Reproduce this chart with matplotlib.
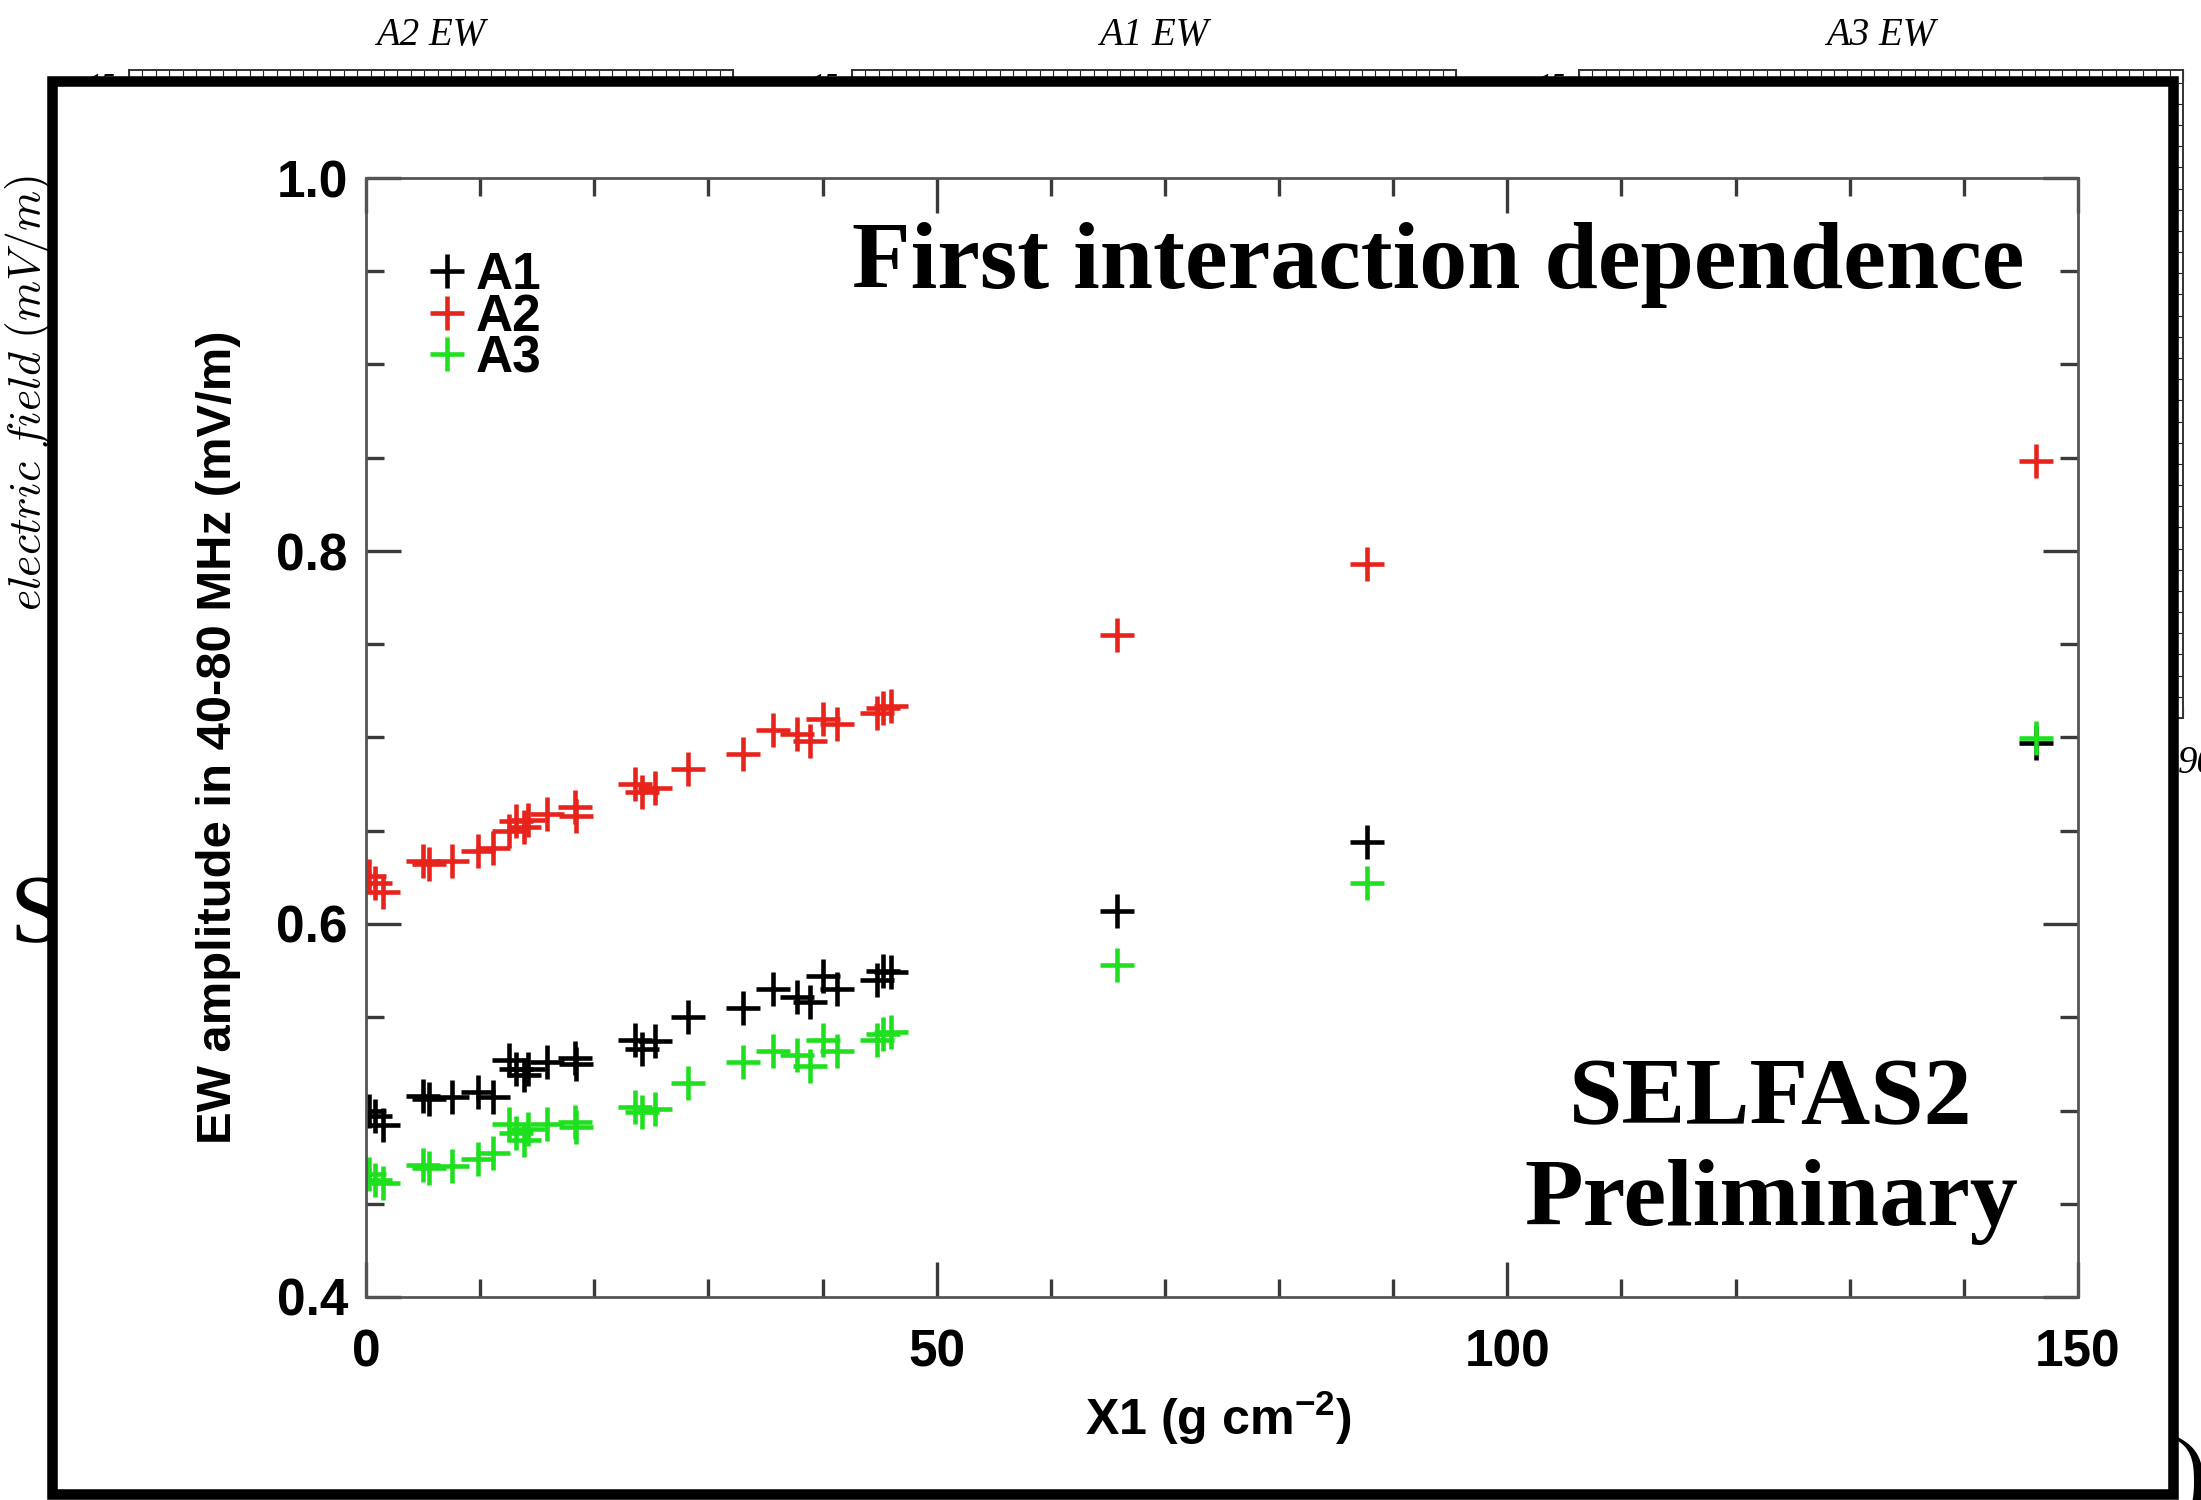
import matplotlib
matplotlib.use("Agg")
import matplotlib.pyplot as plt
from matplotlib import font_manager
from matplotlib.patches import Rectangle
from matplotlib.ticker import MultipleLocator

# ── data ──────────────────────────────────────────────────────────────────────
# depth of first interaction X1 (g cm^-2), one value per simulated shower
x1 = [0.3, 0.8, 1.5, 5.0, 5.5, 7.5, 9.8, 11.1, 12.5, 13.1, 13.8, 14.2, 15.9,
      18.3, 18.4, 23.6, 24.2, 25.3, 28.2, 33.0, 35.7, 37.8, 38.9, 40.0, 41.3,
      44.8, 45.3, 46.0, 65.8, 87.7, 146.3]

# EW amplitude in the 40-80 MHz band (mV/m) for each antenna
amp_a1 = [0.500, 0.497, 0.492, 0.508, 0.506, 0.507, 0.510, 0.507, 0.527, 0.522,
          0.519, 0.522, 0.526, 0.528, 0.525, 0.538, 0.533, 0.537, 0.550, 0.555,
          0.565, 0.561, 0.558, 0.572, 0.565, 0.570, 0.575, 0.574, 0.607, 0.644,
          0.697]
amp_a2 = [0.626, 0.622, 0.617, 0.634, 0.632, 0.634, 0.639, 0.641, 0.650, 0.655,
          0.652, 0.656, 0.659, 0.663, 0.658, 0.675, 0.671, 0.673, 0.683, 0.691,
          0.704, 0.702, 0.698, 0.710, 0.707, 0.713, 0.716, 0.717, 0.755, 0.793,
          0.848]
amp_a3 = [0.466, 0.463, 0.461, 0.471, 0.469, 0.470, 0.474, 0.477, 0.493, 0.488,
          0.484, 0.490, 0.493, 0.494, 0.491, 0.502, 0.499, 0.501, 0.515, 0.526,
          0.532, 0.530, 0.524, 0.538, 0.532, 0.538, 0.541, 0.542, 0.578, 0.622,
          0.700]

antennas = ["A1", "A2", "A3"]
colors = ["black", "#e8231b", "#1fe01f"]
panel_titles = ["A2 EW", "A1 EW", "A3 EW"]

# ── fonts ─────────────────────────────────────────────────────────────────────
installed = {f.name for f in font_manager.fontManager.ttflist}
if "Liberation Sans Narrow" in installed:
    SANS, fs = "Liberation Sans Narrow", 1.0
else:
    SANS, fs = "Liberation Sans", 0.84
SERIF = "Liberation Serif"

plt.rcParams["mathtext.fontset"] = "custom"
plt.rcParams["mathtext.rm"] = f"{SANS}:bold"
plt.rcParams["mathtext.it"] = f"{SANS}:bold"
plt.rcParams["mathtext.bf"] = f"{SANS}:bold"

W, H = 2201, 1500
fig = plt.figure(figsize=(W / 100, H / 100), dpi=100)


def box(left, top, right, bottom):
    """Pixel box -> figure fraction [x, y, w, h]."""
    return [left / W, 1 - bottom / H, (right - left) / W, (bottom - top) / H]


# ── background panels (mostly covered by the framed plot) ─────────────────────
bg_boxes = [(129, 70, 733, 718), (852, 70, 1456, 718), (1579, 70, 2183, 718)]
for i, (title, (l, t, r, b)) in enumerate(zip(panel_titles, bg_boxes)):
    bax = fig.add_axes(box(l, t, r, b), zorder=0)
    bax.set_xlim(0, 900)
    bax.set_ylim(-15, 15.6)
    bax.xaxis.set_major_locator(MultipleLocator(100))
    bax.xaxis.set_minor_locator(MultipleLocator(20))
    bax.yaxis.set_major_locator(MultipleLocator(5))
    bax.yaxis.set_minor_locator(MultipleLocator(1))
    bax.tick_params(which="both", direction="in", top=True, right=True,
                    width=0.8, color="#222222", pad=10)
    bax.tick_params(which="major", length=8)
    bax.tick_params(which="minor", length=4)
    bax.set_xticklabels([])
    for lab in bax.get_yticklabels():
        lab.set_fontfamily(SERIF)
        lab.set_fontstyle("italic")
        lab.set_fontsize(20)
    for sp in bax.spines.values():
        sp.set_linewidth(1.4)
        sp.set_color("#333333")
    bax.text(0.5, (b - 35) / (b - t), title, transform=bax.transAxes,
             ha="center", va="center", fontsize=28, family=SERIF,
             style="italic")
    if i == 0:
        bax.text((28 - l) / (r - l), (b - 393) / (b - t),
                 r"$electric\ field\ (mV/m)$", transform=bax.transAxes,
                 rotation=90, ha="center", va="center", fontsize=33,
                 math_fontfamily="cm")

fig.text(10 / W, 1 - 942 / H, "S", fontsize=70, family=SERIF,
         ha="left", va="baseline", zorder=0.5)
fig.text(2175 / W, 1 - 1505 / H, ")", fontsize=70, family=SERIF,
         ha="left", va="baseline", zorder=0.5)
fig.text(2178 / W, 1 - 773 / H, "900", fontsize=28, family=SERIF,
         style="italic", ha="left", va="baseline", zorder=0.5)

# ── thick frame with white fill ───────────────────────────────────────────────
frame = Rectangle((52 / W, 1 - 1494 / H), (2173 - 52) / W, (1494 - 81) / H,
                  transform=fig.transFigure, facecolor="white",
                  edgecolor="black", linewidth=7.6, zorder=1)
fig.add_artist(frame)

# ── main plot ─────────────────────────────────────────────────────────────────
ax = fig.add_axes(box(366, 178, 2078, 1297), zorder=2)
for name, amp, c in zip(antennas, [amp_a1, amp_a2, amp_a3], colors):
    ax.plot(x1, amp, ls="none", marker="+", ms=24, mew=3.3, color=c,
            label=name)

ax.set_xlim(0, 150)
ax.set_ylim(0.4, 1.0)
ax.xaxis.set_major_locator(MultipleLocator(50))
ax.xaxis.set_minor_locator(MultipleLocator(10))
ax.yaxis.set_major_locator(MultipleLocator(0.2))
ax.yaxis.set_minor_locator(MultipleLocator(0.05))
ax.tick_params(which="both", direction="in", top=True, right=True,
               width=2.4, color="#3a3a3a")
ax.tick_params(which="major", length=25)
ax.tick_params(which="minor", length=13)
ax.tick_params(axis="y", pad=13)
ax.tick_params(axis="x", pad=23)
for sp in ax.spines.values():
    sp.set_linewidth(2)
    sp.set_color("#555555")
for lab in ax.get_xticklabels() + ax.get_yticklabels():
    lab.set_fontfamily(SANS)
    lab.set_fontweight("bold")
    lab.set_fontsize(44 * fs)

ax.set_ylabel("EW amplitude in 40-80 MHz (mV/m)", fontsize=42 * fs,
              family=SANS, weight="bold", va="center")
ax.yaxis.set_label_coords(-0.0864, 0.5)
ax.set_xlabel("X1 (g cm$^{-2}$)", fontsize=43 * fs, family=SANS,
              weight="bold", va="center")
ax.xaxis.set_label_coords(0.4977, -0.108)

ax.legend(loc="upper left", bbox_to_anchor=(0.037, 0.935), frameon=False,
          prop={"family": SANS, "weight": "bold", "size": 44 * fs},
          handlelength=0.7, handletextpad=0.2, labelspacing=-0.14,
          borderaxespad=0, borderpad=0, numpoints=1)

ax.text(0.626, 0.922, "First interaction dependence", transform=ax.transAxes,
        ha="center", va="center", fontsize=69, family=SERIF, weight="bold")
ax.text(0.8207, 0.13, "SELFAS2\nPreliminary", transform=ax.transAxes,
        ha="center", va="center", fontsize=69, family=SERIF, weight="bold",
        linespacing=1.22)

fig.savefig("out.png", dpi=100)
plt.close(fig)
